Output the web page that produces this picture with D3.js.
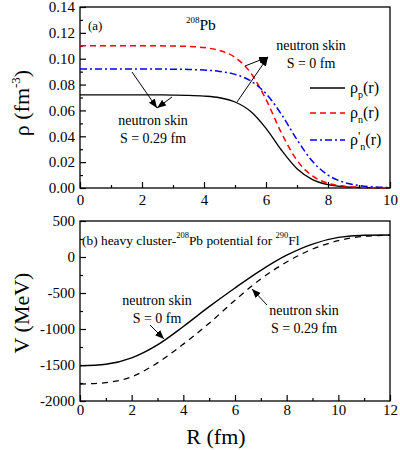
<!DOCTYPE html>
<html>
<head>
<meta charset="utf-8">
<script src="https://cdn.jsdelivr.net/npm/d3@7"></script>
<style>
  html, body { margin: 0; padding: 0; background: #fff; }
  svg { display: block; }
  svg text { font-family: "Liberation Serif", "Liberation Sans", Arial, sans-serif; fill: #000; }
</style>
</head>
<body>
<svg id="chart" width="400" height="450"></svg>
<script>
// ---------- data (panel a: densities) ----------
const rVals  = [0,0.5,1,1.5,2,2.5,3,3.5,4,4.5,5,5.5,6,6.5,7,7.5,8,8.5,9,9.5,10];
const rhoP   = [0.072,0.072,0.072,0.072,0.072,0.072,0.0719,0.0717,0.0711,0.0698,0.0665,0.0593,0.0461,0.0292,0.0149,0.0065,0.0026,0.0010,0.0004,0.0002,0.0001];
const rhoN   = [0.110,0.110,0.110,0.110,0.110,0.110,0.1098,0.1095,0.1086,0.1064,0.1010,0.0893,0.0685,0.0425,0.0214,0.0093,0.0037,0.0015,0.0006,0.0002,0.0001];
const rhoNp  = [0.092,0.092,0.092,0.092,0.092,0.092,0.0919,0.0917,0.0912,0.0902,0.0879,0.0829,0.0730,0.0569,0.0374,0.0206,0.0100,0.0045,0.0020,0.0008,0.0004];
const xTicksA = [0,2,4,6,8,10];
const yTicksA = [0.00,0.02,0.04,0.06,0.08,0.10,0.12,0.14];

// ---------- data (panel b: potentials) ----------
const RVals  = [0,1,2,3,4,5,6,7,8,9,10,11,12];
const Vs0    = [-1512,-1490,-1400,-1220,-965,-690,-430,-185,25,180,272,302,305];
const Vs029  = [-1765,-1745,-1665,-1470,-1210,-920,-600,-305,-70,110,227,287,302];
const xTicksB = [0,2,4,6,8,10,12];
const yTicksB = [-2000,-1500,-1000,-500,0,500];

const FONT = '"Liberation Serif", "Liberation Sans", Arial, sans-serif';
const svg = d3.select("#chart").attr("font-family", FONT);

const defs = svg.append("defs");
defs.append("marker").attr("id","ah").attr("viewBox","0 0 10 10")
  .attr("refX",10).attr("refY",5).attr("markerWidth",9).attr("markerHeight",9)
  .attr("markerUnits","userSpaceOnUse").attr("orient","auto")
  .append("path").attr("d","M0,1 L10,5 L0,9 Z").attr("fill","#000");

// ---------- scales ----------
const xA = d3.scaleLinear().domain([0,10]).range([80,390]);
const yA = d3.scaleLinear().domain([0,0.14]).range([188,7]);
const xB = d3.scaleLinear().domain([0,12]).range([80,390]);
const yB = d3.scaleLinear().domain([-2000,500]).range([401,221]);

function drawAxes(x, y, xt, yt, xMinor, yMinor, yFmt, xPad, yPad) {
  const [x0,x1] = x.range(), [y0,y1] = y.range();
  const gx = svg.append("g").attr("transform",`translate(0,${y0})`)
    .call(d3.axisBottom(x).tickValues(xt).tickSizeInner(-6).tickSizeOuter(0).tickPadding(xPad).tickFormat(d=>String(d)));
  gx.attr("font-family", FONT).attr("font-size",15);
  gx.select(".domain").remove();
  gx.selectAll("line").attr("stroke-width",1.2);
  const gxm = svg.append("g").attr("transform",`translate(0,${y0})`)
    .call(d3.axisBottom(x).tickValues(xMinor).tickSizeInner(-3).tickSizeOuter(0).tickFormat(""));
  gxm.select(".domain").remove();
  gxm.selectAll("line").attr("stroke-width",1.2);

  const gy = svg.append("g").attr("transform",`translate(${x0},0)`)
    .call(d3.axisLeft(y).tickValues(yt).tickSizeInner(-6).tickSizeOuter(0).tickPadding(yPad).tickFormat(yFmt));
  gy.attr("font-family", FONT).attr("font-size",15);
  gy.select(".domain").remove();
  gy.selectAll("line").attr("stroke-width",1.2);
  const gym = svg.append("g").attr("transform",`translate(${x0},0)`)
    .call(d3.axisLeft(y).tickValues(yMinor).tickSizeInner(-3).tickSizeOuter(0).tickFormat(""));
  gym.select(".domain").remove();
  gym.selectAll("line").attr("stroke-width",1.2);

  svg.append("rect").attr("x",x0).attr("y",y1).attr("width",x1-x0).attr("height",y0-y1)
    .attr("fill","none").attr("stroke","#000").attr("stroke-width",1.3);
}

const mid = arr => arr.slice(0,-1).map((v,i)=>(v+arr[i+1])/2);

drawAxes(xA, yA, xTicksA, yTicksA, mid(xTicksA), mid(yTicksA), d3.format(".2f"), 6, 5);
drawAxes(xB, yB, xTicksB, yTicksB, mid(xTicksB), mid(yTicksB), d=>String(d), 3, 5);

// ---------- curves panel a ----------
const lineA = (vals) => d3.line().x((d,i)=>xA(rVals[i])).y((d)=>yA(d)).curve(d3.curveMonotoneX)(vals);
svg.append("path").attr("d",lineA(rhoP)).attr("fill","none").attr("stroke","#000").attr("stroke-width",1.3);
svg.append("path").attr("d",lineA(rhoN)).attr("fill","none").attr("stroke","#ff0000").attr("stroke-width",1.5).attr("stroke-dasharray","6,4");
svg.append("path").attr("d",lineA(rhoNp)).attr("fill","none").attr("stroke","#0000ff").attr("stroke-width",1.5).attr("stroke-dasharray","7,3,2,3");

// ---------- curves panel b ----------
const lineB = (vals) => d3.line().x((d,i)=>xB(RVals[i])).y((d)=>yB(d)).curve(d3.curveMonotoneX)(vals);
svg.append("path").attr("d",lineB(Vs0)).attr("fill","none").attr("stroke","#000").attr("stroke-width",1.4);
svg.append("path").attr("d",lineB(Vs029)).attr("fill","none").attr("stroke","#000").attr("stroke-width",1.3).attr("stroke-dasharray","6,5");

// ---------- axis titles ----------
const tA = svg.append("text").attr("transform","translate(29,103) rotate(-90)").attr("text-anchor","middle").attr("font-size",22);
tA.append("tspan").text("ρ (fm");
tA.append("tspan").attr("font-size",13).attr("dy",-9).text("-3");
tA.append("tspan").attr("dy",9).text(")");

svg.append("text").attr("transform","translate(29,313) rotate(-90)").attr("text-anchor","middle").attr("font-size",22).text("V (MeV)");
svg.append("text").attr("x",216).attr("y",444).attr("text-anchor","middle").attr("font-size",22).text("R (fm)");

// ---------- panel labels ----------
svg.append("text").attr("x",88).attr("y",30).attr("font-size",13).text("(a)");
const pb = svg.append("text").attr("x",186).attr("y",30).attr("font-size",15.5);
pb.append("tspan").attr("font-size",9).attr("dy",-7).text("208");
pb.append("tspan").attr("dy",7).text("Pb");

const tb = svg.append("text").attr("x",82).attr("y",245).attr("font-size",13.4);
tb.append("tspan").text("(b) heavy cluster-");
tb.append("tspan").attr("font-size",8.5).attr("dy",-7).text("208");
tb.append("tspan").attr("dy",7).text("Pb potential for ");
tb.append("tspan").attr("font-size",8.5).attr("dy",-7).text("290");
tb.append("tspan").attr("dy",7).text("Fl");

// ---------- legend ----------
const legend = [
  {name:"p", color:"#000", dash:null, prime:false, y:88},
  {name:"n", color:"#ff0000", dash:"6,4", prime:false, y:113},
  {name:"n", color:"#0000ff", dash:"7,3,2,3", prime:true, y:140}
];
legend.forEach(l => {
  svg.append("line").attr("x1",310).attr("x2",345).attr("y1",l.y).attr("y2",l.y)
    .attr("stroke",l.color).attr("stroke-width",1.5).attr("stroke-dasharray",l.dash);
  const t = svg.append("text").attr("x",350).attr("y",l.y+5).attr("font-size",16);
  t.append("tspan").text("ρ");
  if (l.prime) t.append("tspan").attr("font-size",13).attr("dy",-5).text("'");
  t.append("tspan").attr("font-size",10).attr("dy",l.prime?10:5).text(l.name);
  t.append("tspan").attr("dy",-5).text("(r)");
});

// ---------- annotations ----------
function label(x, y, lines, size) {
  lines.forEach((s,i)=> svg.append("text").attr("x",x).attr("y",y+i*18).attr("text-anchor","middle").attr("font-size",size).text(s));
}
function arrow(x1,y1,x2,y2) {
  svg.append("line").attr("x1",x1).attr("y1",y1).attr("x2",x2).attr("y2",y2)
    .attr("stroke","#000").attr("stroke-width",1).attr("marker-end","url(#ah)");
}
label(311, 50, ["neutron skin","S = 0 fm"], 14);
arrow(237,102,268,57);
arrow(245,66,268,57);
label(153, 125, ["neutron skin","S = 0.29 fm"], 14);
arrow(132,72,157,108);
arrow(172,97,157,108);
label(157, 305, ["neutron skin","S = 0 fm"], 14);
arrow(150,325,164,339);
label(304, 315, ["neutron skin","S = 0.29 fm"], 14);
arrow(267,305,252,289);
</script>
</body>
</html>
